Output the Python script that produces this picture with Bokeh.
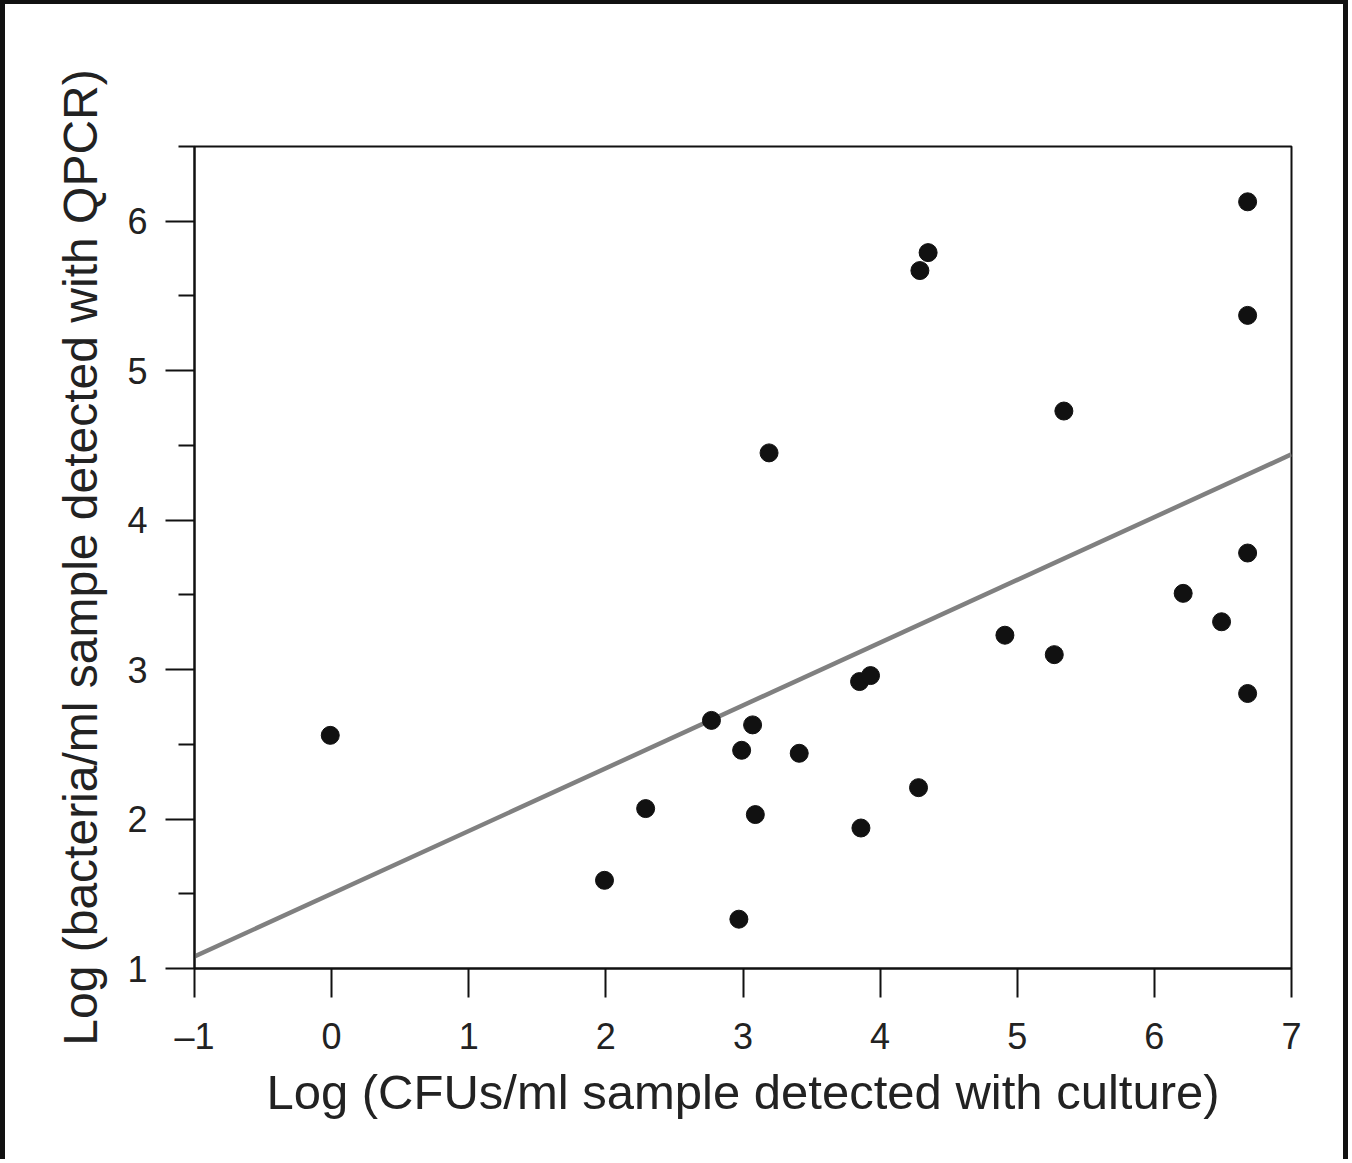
from bokeh.plotting import figure
from bokeh.models import Range1d, FixedTicker, ColumnDataSource
from bokeh.embed import file_html
from bokeh.resources import INLINE

# Data
culture_log = [-0.01, 1.99, 2.29, 2.77, 2.97, 2.99, 3.07, 3.09, 3.19, 3.41,
               3.85, 3.86, 3.93, 4.28, 4.29, 4.35, 4.91, 5.27, 5.34, 6.21,
               6.49, 6.68, 6.68, 6.68, 6.68]
qpcr_log = [2.56, 1.59, 2.07, 2.66, 1.33, 2.46, 2.63, 2.03, 4.45, 2.44,
            2.92, 1.94, 2.96, 2.21, 5.67, 5.79, 3.23, 3.10, 4.73, 3.51,
            3.32, 6.13, 5.37, 3.78, 2.84]
fit_intercept = 1.50
fit_slope = 0.42
x_ticks = [-1, 0, 1, 2, 3, 4, 5, 6, 7]
y_ticks = [1, 2, 3, 4, 5, 6]
y_minor_ticks = [1.5, 2.5, 3.5, 4.5, 5.5, 6.5]
x_label = "Log (CFUs/ml sample detected with culture)"
y_label = "Log (bacteria/ml sample detected with QPCR)"

X_MIN, X_MAX = -1, 7
Y_MIN, Y_MAX = 1, 6.5

FONT = "Liberation Sans"
TEXT = "#222222"

p = figure(width=1348, height=1159, output_backend="svg", toolbar_location=None,
           x_range=Range1d(X_MIN, X_MAX), y_range=Range1d(Y_MIN, Y_MAX),
           min_border_left=189, min_border_right=62, min_border_top=142,
           min_border_bottom=195)
p.styles = {"border-top": "4px solid #111111",
            "border-left": "5px solid #111111",
            "border-right": "5px solid #111111"}

p.grid.visible = False
p.outline_line_color = "#111111"
p.outline_line_width = 2
p.background_fill_color = "white"
p.border_fill_color = "white"

fit_x = [X_MIN, X_MAX]
fit_y = [fit_intercept + fit_slope * v for v in fit_x]
p.line(fit_x, fit_y, line_color="#808080", line_width=4.5)

src = ColumnDataSource(dict(x=culture_log, y=qpcr_log))
p.scatter("x", "y", source=src, size=18, fill_color="#111111", line_color="#111111")

xa = p.xaxis[0]
xa.ticker = FixedTicker(ticks=x_ticks)
xa.major_label_overrides = {-1: "\u20131"}
ya = p.yaxis[0]
ya.ticker = FixedTicker(ticks=y_ticks, minor_ticks=y_minor_ticks)

for ax in (xa, ya):
    ax.axis_line_color = "#111111"
    ax.axis_line_width = 2
    ax.major_tick_line_color = "#111111"
    ax.major_tick_line_width = 2
    ax.major_tick_out = 29
    ax.major_tick_in = 0
    ax.minor_tick_line_color = "#111111"
    ax.minor_tick_line_width = 2
    ax.minor_tick_out = 16
    ax.minor_tick_in = 0
    ax.major_label_text_font = FONT
    ax.major_label_text_font_size = "36px"
    ax.major_label_text_color = TEXT
    ax.axis_label_text_font = FONT
    ax.axis_label_text_font_size = "49px"
    ax.axis_label_text_font_style = "normal"
    ax.axis_label_text_color = TEXT

ya.axis_label_text_font_size = "48px"
xa.minor_tick_line_color = None
xa.axis_label = x_label
ya.axis_label = y_label
xa.major_label_standoff = 18
ya.major_label_standoff = 18
xa.axis_label_standoff = 5
ya.axis_label_standoff = 17
ya.major_label_orientation = "horizontal"

open("out.html", "w").write(file_html(p, INLINE))
